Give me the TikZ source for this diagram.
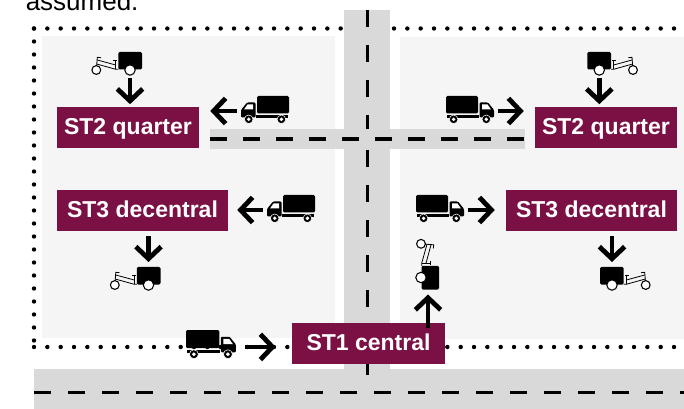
\documentclass[tikz,border=0pt]{standalone}
\usepackage{fontspec}
\setmainfont{Liberation Sans}
\usetikzlibrary{arrows.meta}
\definecolor{stbox}{HTML}{7B1045}
\definecolor{road}{HTML}{D9D9D9}
\definecolor{panel}{HTML}{F5F5F5}
\tikzset{
  stnode/.style={fill=stbox, text=white, font=\fontsize{17.25}{20}\selectfont\bfseries, inner sep=0pt, minimum height=30.75pt, text height=12.4pt, text depth=2.6pt},
  flow/.style={line width=3.6pt, -{Straight Barb[length=9pt, width=19pt]}},
  dots/.style={line width=3.3pt, line cap=round, dash pattern=on 0pt off 10pt},
  roadline/.style={line width=2.4pt},
  truck/.pic={
    \fill[rounded corners=1pt] (0,0) rectangle (32,17.5);
    \fill (1.3,19) rectangle (33,22);
    \fill[rounded corners=0.8pt] (33.5,6.5) -- (42,6.5) -- (48,14) -- (48,21.5) -- (33.5,21.5) -- cycle;
    \fill[white] (36,8.5) -- (41.5,8.5) -- (45,13.5) -- (36,13.5) -- cycle;
    \fill[black, draw=white, line width=0.4pt] (7.6,23.3) circle (4.3);
    \fill[black, draw=white, line width=0.4pt] (40.3,23.3) circle (4.3);
    \fill[white] (7.6,23.3) circle (1.9);
    \fill[white] (40.3,23.3) circle (1.9);
    \coordinate (-tail) at (52,15);
  },
  bike/.pic={
    \fill[rounded corners=1pt] (-11.7,-18) rectangle (12,-0.5);
    \draw[line width=0.6pt] (-33.7,0) -- (-32.7,-12.7) -- (-29,-12.3);
    \draw[line width=0.6pt] (-32.7,-10) -- (-14.3,-5);
    \draw[line width=0.6pt] (-33.3,-6) -- (-14.3,-0.7) -- (-11.7,-0.7);
    \draw[line width=0.6pt] (-16.7,-9.3) -- (-12.7,-9.3) (-14.3,-9.3) -- (-14.3,-0.7);
    \draw[fill=white, line width=0.8pt] (-33.7,0) circle (4.4);
    \draw[fill=white, line width=0.8pt] (0,0) circle (5.2);
    \coordinate (-under) at (0,8);
    \coordinate (-over) at (0,-23);
    \coordinate (-foot) at (17,-7);
  }
}
\begin{document}
\begin{tikzpicture}[x=0.75pt, y=-0.75pt]
  \path[use as bounding box, clip] (0,0) rectangle (684,409);

  \node[anchor=base west, inner sep=0pt, font=\fontsize{19.5}{22}\selectfont] (note) at (25.5,10.5) {assumed.};

  \fill[panel] (42,36) rectangle (335,338);
  \fill[panel] (400,37) rectangle (684,339);

  \draw[dots] (34,28.5) -- (680,28.5);
  \draw[dots, dash pattern=on 0pt off 9.75pt] (34,28.5) -- (34,347);
  \draw[dots] (34,347) -- (680,347);

  \fill[road] (344,10) rectangle (390,369);
  \draw[roadline, dash pattern=on 12.75pt off 13.5pt] (367.3,10) -- (367.3,375);
  \fill[road] (210,129) rectangle (525,149);
  \draw[roadline, dash pattern=on 12.75pt off 12pt] (210,139) -- (525,139);
  \fill[road] (34,369) rectangle (684,409);
  \draw[roadline, dash pattern=on 12.75pt off 12.75pt] (34,392.3) -- (684,392.3);
  \draw[roadline] (367.3,369) -- (367.3,375);

  \node[stnode, minimum width=106.5pt] (quarterW) at (128,127.5) {ST2 quarter};
  \node[stnode, minimum width=106.5pt] (quarterE) at (606,127.5) {ST2 quarter};
  \node[stnode, minimum width=128.25pt] (decentralW) at (142.5,210.5) {ST3 decentral};
  \node[stnode, minimum width=128.25pt] (decentralE) at (591.5,210.5) {ST3 decentral};
  \node[stnode, minimum width=114.75pt] (central) at (368.5,343.5) {ST1 central};

  \pic[xscale=-1] (truckNW) at (289,96) {truck};
  \pic (truckNE) at (446,96) {truck};
  \pic[xscale=-1] (truckSW) at (315,195) {truck};
  \pic (truckSE) at (416,195) {truck};
  \pic[scale=1.04] (truckC) at (186,330) {truck};

  \pic (bikeNW) at (130,70) {bike};
  \pic[xscale=-1] (bikeNE) at (599.3,70) {bike};
  \pic (bikeSW) at (148.5,285) {bike};
  \pic[xscale=-1] (bikeSE) at (612,285) {bike};
  \pic[rotate=-90] (bikeC) at (421,277.5) {bike};

  \draw[flow, shorten >=8.25pt] (truckNW-tail) -- (truckNW-tail -| quarterW.east);
  \draw[flow, shorten >=8.25pt] (truckNE-tail) -- (truckNE-tail -| quarterE.west);
  \draw[flow, shorten >=6.75pt] (truckSW-tail) -- (truckSW-tail -| decentralW.east);
  \draw[flow, shorten >=8.25pt] (truckSE-tail) -- (truckSE-tail -| decentralE.west);
  \draw[flow, shorten <=3.75pt, shorten >=12pt] ([yshift=-1pt]truckC-tail) -- ([yshift=-1pt]truckC-tail -| central.west);

  \draw[flow, shorten >=1.9pt] (bikeNW-under) -- (bikeNW-under |- quarterW.north);
  \draw[flow, shorten >=1.9pt] (bikeNE-under) -- (bikeNE-under |- quarterE.north);
  \draw[flow, shorten <=3.75pt] (bikeSW-over |- decentralW.south) -- (bikeSW-over);
  \draw[flow, shorten <=3.75pt] (bikeSE-over |- decentralE.south) -- (bikeSE-over);
  \draw[flow, shorten <=-3.75pt] (bikeC-foot |- central.north) -- (bikeC-foot);
\end{tikzpicture}
\end{document}
